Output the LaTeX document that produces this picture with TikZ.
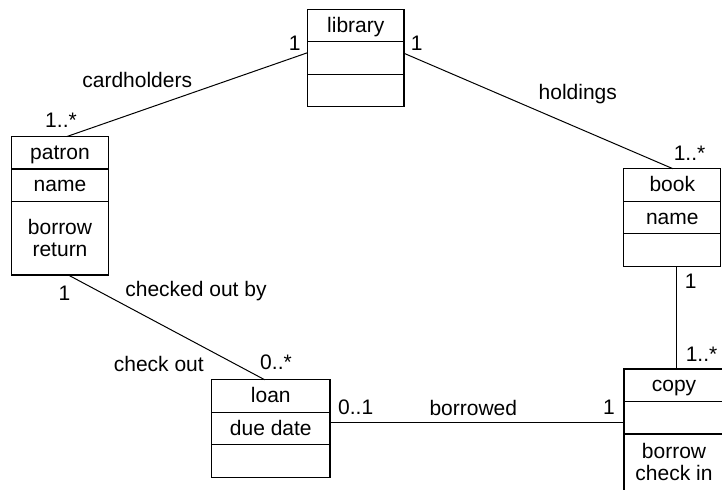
\documentclass[tikz,border=0pt]{standalone}
\usepackage{fontspec}
\setmainfont{Liberation Sans}
\usetikzlibrary{positioning}

\begin{document}
\begin{tikzpicture}[x=0.5pt,y=-0.5pt]
	\tikzstyle{every node}=[font=\fontsize{10.5}{11}\selectfont]
	\tikzstyle{cls}=[draw,rectangle,line width=0.65pt,outer sep=0pt,inner sep=0pt,minimum width=48.5pt,minimum height=16.25pt,align=center]
	\tikzstyle{row}=[cls,text height=7.6pt,text depth=1.1pt]
	\tikzstyle{mult}=[inner sep=0pt]

	\useasboundingbox (0,0) rectangle (722,495);
	\begin{scope}
	\clip (0,0) rectangle (722,489.8);

	% classes
	\node[row,minimum width=48.25pt] (lib1) at (355.8,25.5) {library};
	\node[row,minimum width=48.25pt] (lib2) [below=0pt of lib1] {};
	\node[row,minimum width=48.25pt] (lib3) [below=0pt of lib2] {};

	\node[row] (pat1) at (60,152.8) {patron};
	\node[row] (pat2) [below=0pt of pat1] {name};
	\node[cls,minimum height=36.65pt] (pat3) [below=0pt of pat2] {borrow\\return};

	\node[row] (book1) at (672.3,185) {book};
	\node[row] (book2) [below=0pt of book1] {name};
	\node[row] (book3) [below=0pt of book2] {};

	\node[row,minimum width=59.15pt] (loan1) at (270.8,396) {loan};
	\node[row,minimum width=59.15pt] (loan2) [below=0pt of loan1] {due date};
	\node[row,minimum width=59.15pt] (loan3) [below=0pt of loan2] {};

	\node[row,minimum width=50pt] (copy1) at (674,385.3) {copy};
	\node[row,minimum width=50pt] (copy2) [below=0pt of copy1] {};
	\node[cls,minimum width=50pt,minimum height=28.4pt] (copy3) [below=0pt of copy2] {borrow\\check in};

	% associations
	\path[-,line width=0.5pt]
		([yshift=2.65pt]lib2.west) edge ([xshift=3.4pt]pat1.north)
		([yshift=2.35pt]lib2.east) edge ([xshift=0.35pt]book1.north)
		([xshift=4pt]pat3.south) edge ([xshift=-3.05pt]loan1.north)
		([xshift=2.25pt]book3.south) edge ([xshift=2.25pt]book3.south |- copy1.north)
		([yshift=2.9pt]loan2.east) edge ([yshift=2.9pt]loan2.east -| copy2.west);

	% roles and multiplicities
	\node[mult] (libL) at (294.7,43.3) {1};
	\node[mult] (libR) at (416.7,43.3) {1};
	\node[mult] (cardh) at (137.2,80.3) {cardholders};
	\node[mult] (hold) at (577.8,94.5) {holdings};
	\node[mult] (patT) at (61,120.7) {1..*};
	\node[mult] (bookT) at (689.5,153.3) {1..*};
	\node[mult] (patB) at (64.5,293.3) {1};
	\node[mult] (chkby) at (196,290.7) {checked out by};
	\node[mult] (chkout) at (158.8,364) {check out};
	\node[mult] (loanT) at (276,362.7) {0..*};
	\node[mult] (bookB) at (690.6,281.7) {1};
	\node[mult] (copyT) at (701.5,354) {1..*};
	\node[mult] (loanR) at (355.7,407.3) {0..1};
	\node[mult] (borr) at (473.3,408.3) {borrowed};
	\node[mult] (copyL) at (609,407.3) {1};
	\end{scope}
\end{tikzpicture}
\end{document}
